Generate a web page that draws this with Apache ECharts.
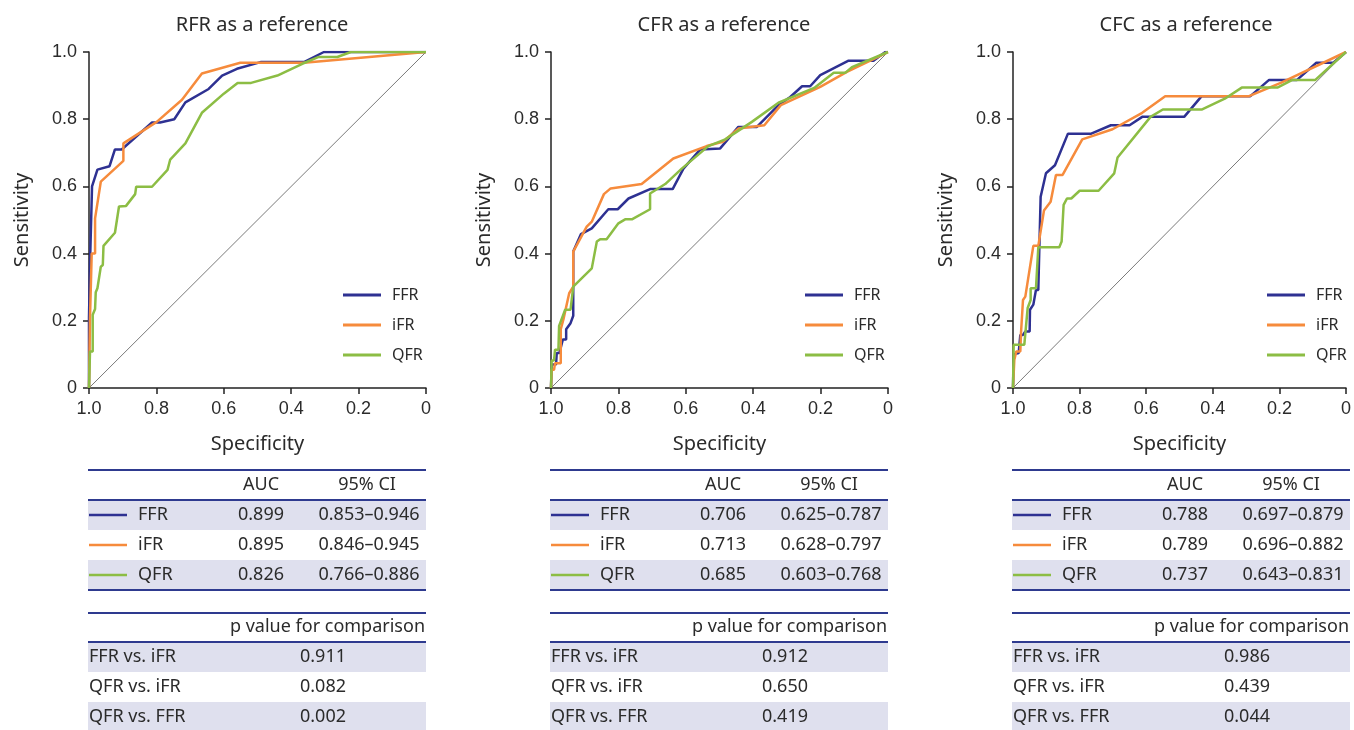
<!DOCTYPE html>
<html>
<head>
<meta charset="utf-8">
<script src="https://cdn.jsdelivr.net/npm/echarts@6/dist/echarts.min.js"></script>
<style>
    html, body { margin: 0; padding: 0; background: #fff; }
    #main { width: 1354px; height: 730px; }
</style>
</head>
<body>
<div id="main"></div>
<script>
// ---------------- 数据 ----------------
var panelTitles = ["RFR as a reference", "CFR as a reference", "CFC as a reference"];
var methodNames = ["FFR", "iFR", "QFR"];

// [specificity, sensitivity]
var rfrFFR = [[1, 0], [1, 0.21], [0.997, 0.37], [0.992, 0.37], [0.991, 0.6], [0.975, 0.65], [0.939, 0.66], [0.923, 0.71], [0.903, 0.71], [0.813, 0.79], [0.789, 0.79], [0.747, 0.8], [0.714, 0.85], [0.645, 0.89], [0.605, 0.93], [0.561, 0.95], [0.491, 0.97], [0.362, 0.97], [0.303, 1], [0, 1]];
var rfrIFR = [[1, 0], [0.997, 0.21], [0.992, 0.4], [0.982, 0.4], [0.982, 0.505], [0.965, 0.614], [0.898, 0.676], [0.898, 0.728], [0.799, 0.792], [0.724, 0.858], [0.665, 0.936], [0.551, 0.968], [0.362, 0.968], [0, 1]];
var rfrQFR = [[1, 0], [0.997, 0.109], [0.989, 0.109], [0.989, 0.218], [0.982, 0.235], [0.98, 0.285], [0.975, 0.297], [0.965, 0.361], [0.959, 0.366], [0.957, 0.423], [0.923, 0.462], [0.911, 0.54], [0.89, 0.542], [0.863, 0.577], [0.86, 0.599], [0.813, 0.599], [0.767, 0.649], [0.759, 0.68], [0.714, 0.728], [0.665, 0.819], [0.6, 0.876], [0.559, 0.908], [0.519, 0.908], [0.441, 0.93], [0.367, 0.965], [0.32, 0.985], [0.263, 0.985], [0.223, 1], [0, 1]];

var cfrFFR = [[1, 0], [0.998, 0.07], [0.985, 0.07], [0.983, 0.104], [0.975, 0.104], [0.965, 0.144], [0.955, 0.144], [0.955, 0.175], [0.942, 0.193], [0.934, 0.215], [0.934, 0.406], [0.911, 0.458], [0.879, 0.475], [0.83, 0.532], [0.802, 0.532], [0.77, 0.564], [0.706, 0.592], [0.639, 0.592], [0.607, 0.653], [0.557, 0.71], [0.498, 0.713], [0.444, 0.777], [0.389, 0.777], [0.325, 0.842], [0.29, 0.866], [0.255, 0.898], [0.231, 0.898], [0.201, 0.931], [0.117, 0.974], [0.043, 0.974], [0.008, 1], [0, 1]];
var cfrIFR = [[1, 0], [0.998, 0.054], [0.991, 0.054], [0.988, 0.074], [0.971, 0.074], [0.971, 0.175], [0.963, 0.205], [0.946, 0.282], [0.934, 0.302], [0.934, 0.406], [0.894, 0.48], [0.879, 0.495], [0.843, 0.577], [0.823, 0.594], [0.731, 0.607], [0.637, 0.683], [0.538, 0.72], [0.49, 0.733], [0.444, 0.772], [0.367, 0.782], [0.318, 0.842], [0.201, 0.896], [0.122, 0.941], [0, 1]];
var cfrQFR = [[1, 0], [0.998, 0.082], [0.991, 0.082], [0.988, 0.114], [0.978, 0.114], [0.976, 0.185], [0.958, 0.233], [0.942, 0.233], [0.934, 0.302], [0.879, 0.356], [0.864, 0.436], [0.854, 0.443], [0.835, 0.443], [0.8, 0.49], [0.78, 0.502], [0.76, 0.502], [0.706, 0.532], [0.706, 0.579], [0.661, 0.607], [0.612, 0.653], [0.533, 0.72], [0.483, 0.74], [0.404, 0.792], [0.325, 0.849], [0.219, 0.893], [0.161, 0.938], [0.127, 0.938], [0.107, 0.955], [0, 1]];

var cfcFFR = [[1, 0], [0.998, 0.1], [0.983, 0.104], [0.978, 0.158], [0.97, 0.158], [0.963, 0.168], [0.95, 0.168], [0.949, 0.233], [0.939, 0.248], [0.931, 0.292], [0.924, 0.292], [0.917, 0.569], [0.901, 0.639], [0.874, 0.663], [0.835, 0.757], [0.765, 0.757], [0.706, 0.782], [0.65, 0.782], [0.612, 0.807], [0.486, 0.807], [0.434, 0.868], [0.288, 0.868], [0.231, 0.917], [0.147, 0.917], [0.089, 0.968], [0.038, 0.968], [0, 1]];
var cfcIFR = [[1, 0], [0.996, 0.084], [0.99, 0.109], [0.978, 0.109], [0.976, 0.163], [0.97, 0.163], [0.97, 0.262], [0.963, 0.272], [0.939, 0.423], [0.924, 0.423], [0.907, 0.528], [0.887, 0.554], [0.871, 0.634], [0.851, 0.634], [0.792, 0.74], [0.701, 0.77], [0.612, 0.819], [0.543, 0.868], [0.293, 0.868], [0.196, 0.908], [0, 1]];
var cfcQFR = [[1, 0], [0.998, 0.129], [0.966, 0.129], [0.956, 0.238], [0.947, 0.262], [0.947, 0.297], [0.931, 0.297], [0.924, 0.419], [0.861, 0.419], [0.854, 0.436], [0.848, 0.545], [0.838, 0.564], [0.825, 0.564], [0.8, 0.587], [0.743, 0.587], [0.696, 0.639], [0.686, 0.686], [0.587, 0.807], [0.55, 0.829], [0.432, 0.829], [0.364, 0.861], [0.313, 0.894], [0.206, 0.894], [0.161, 0.917], [0.092, 0.917], [0, 1]];

var diagonal = [[1, 0], [0, 1]];

// 表格数据
var aucValues = [["0.899", "0.895", "0.826"], ["0.706", "0.713", "0.685"], ["0.788", "0.789", "0.737"]];
var ciValues = [
    ["0.853–0.946", "0.846–0.945", "0.766–0.886"],
    ["0.625–0.787", "0.628–0.797", "0.603–0.768"],
    ["0.697–0.879", "0.696–0.882", "0.643–0.831"]
];
var comparisonLabels = ["FFR vs. iFR", "QFR vs. iFR", "QFR vs. FFR"];
var pValues = [["0.911", "0.082", "0.002"], ["0.912", "0.650", "0.419"], ["0.986", "0.439", "0.044"]];

var curves = [[rfrFFR, rfrIFR, rfrQFR], [cfrFFR, cfrIFR, cfrQFR], [cfcFFR, cfcIFR, cfcQFR]];

// ---------------- 样式 ----------------
var lineColors = ["#2e3192", "#f68b3c", "#8cbd44"];
var navy = "#2e3a8f";
var shade = "#dfe0ee";
var txt = "#2b2b2b";
var sansFont = "Noto Sans";
var axisFont = "Liberation Sans";
var panelStep = 462;

var chart = echarts.init(document.getElementById("main"));

var titles = [], grids = [], xAxes = [], yAxes = [], legends = [], series = [], graphics = [];

function tickFormatter(v) {
    return v === 0 ? "0" : v.toFixed(1);
}

for (var i = 0; i < 3; i++) {
    var gx = 89 + panelStep * i;
    titles.push({
        text: panelTitles[i],
        left: gx + 168,
        top: 10,
        textAlign: "center",
        textStyle: { fontFamily: sansFont, fontSize: 20, fontWeight: "normal", color: txt }
    });
    grids.push({ left: gx, top: 52, width: 337, height: 336 });
    xAxes.push({
        type: "value",
        gridIndex: i,
        min: 0,
        max: 1,
        interval: 0.2,
        inverse: true,
        name: "Specificity",
        nameLocation: "middle",
        nameGap: 46,
        nameTextStyle: { fontFamily: sansFont, fontSize: 20, color: txt },
        splitLine: { show: false },
        axisLine: { onZero: false, lineStyle: { color: "#222", width: 1.5 } },
        axisTick: { length: 6, lineStyle: { color: "#222", width: 1.5 } },
        axisLabel: { margin: 12, fontFamily: axisFont, fontSize: 18, color: txt, formatter: tickFormatter }
    });
    yAxes.push({
        type: "value",
        gridIndex: i,
        min: 0,
        max: 1,
        interval: 0.2,
        name: "Sensitivity",
        nameLocation: "middle",
        nameGap: 57,
        nameTextStyle: { fontFamily: sansFont, fontSize: 20, color: txt },
        splitLine: { show: false },
        axisLine: { onZero: false, lineStyle: { color: "#222", width: 1.5 } },
        axisTick: { length: 6, lineStyle: { color: "#222", width: 1.5 } },
        axisLabel: { margin: 12, fontFamily: axisFont, fontSize: 18, color: txt, formatter: tickFormatter }
    });
    legends.push({
        left: gx + 254,
        top: 287,
        padding: 0,
        orient: "vertical",
        icon: "rect",
        itemWidth: 38,
        itemHeight: 3,
        itemGap: 14,
        selectedMode: false,
        data: methodNames,
        textStyle: { fontFamily: sansFont, fontSize: 16, color: txt, padding: [0, 0, 0, 6] }
    });
    // 对角参考线
    series.push({
        name: "diagonal",
        type: "line",
        xAxisIndex: i,
        yAxisIndex: i,
        data: diagonal,
        showSymbol: false,
        silent: true,
        lineStyle: { color: "#7a7a7a", width: 1 },
        z: 1
    });
    for (var m = 0; m < 3; m++) {
        series.push({
            name: methodNames[m],
            type: "line",
            xAxisIndex: i,
            yAxisIndex: i,
            data: curves[i][m],
            showSymbol: false,
            color: lineColors[m],
            lineStyle: { width: 2.5, color: lineColors[m] },
            z: 2 + m
        });
    }

    // ---------- 表格 ----------
    var x0 = 88 + panelStep * i;
    var tw = 338;
    function hline(y) {
        return { type: "line", shape: { x1: x0, y1: y, x2: x0 + tw, y2: y }, style: { stroke: navy, lineWidth: 2 }, z: 20 };
    }
    function label(text, x, y, align) {
        return {
            type: "text", x: x, y: y, z: 21,
            style: { text: text, fill: txt, font: "18px '" + sansFont + "'", align: align || "left", verticalAlign: "middle" }
        };
    }
    // AUC 表
    for (var r = 0; r < 3; r++) {
        var ry = 500 + 30 * r;
        if (r !== 1) {
            graphics.push({ type: "rect", shape: { x: x0, y: ry, width: tw, height: 30 }, style: { fill: shade }, z: 10 });
        }
        graphics.push({ type: "line", shape: { x1: x0 + 1, y1: ry + 15, x2: x0 + 39, y2: ry + 15 }, style: { stroke: lineColors[r], lineWidth: 2.5 }, z: 21 });
        graphics.push(label(methodNames[r], x0 + 50, ry + 15));
        graphics.push(label(aucValues[i][r], x0 + 173, ry + 15, "center"));
        graphics.push(label(ciValues[i][r], x0 + 281, ry + 15, "center"));
    }
    graphics.push(hline(470), hline(500), hline(590));
    graphics.push(label("AUC", x0 + 173, 485, "center"));
    graphics.push(label("95% CI", x0 + 279, 485, "center"));

    // p 值表
    for (var k = 0; k < 3; k++) {
        var py = 642 + 30 * k;
        if (k !== 1) {
            graphics.push({ type: "rect", shape: { x: x0, y: py, width: tw, height: 30 }, style: { fill: shade }, z: 10 });
        }
        graphics.push(label(comparisonLabels[k], x0 + 1, py + 15));
        graphics.push(label(pValues[i][k], x0 + 235, py + 15, "center"));
    }
    graphics.push(hline(613), hline(642));
    graphics.push(label("p value for comparison", x0 + tw - 1, 627, "right"));
}

var option = {
    animation: false,
    backgroundColor: "#fff",
    title: titles,
    grid: grids,
    xAxis: xAxes,
    yAxis: yAxes,
    legend: legends,
    series: series,
    graphic: graphics
};

chart.setOption(option);
window.addEventListener("resize", function () {
    chart.resize();
});
</script>
</body>
</html>
